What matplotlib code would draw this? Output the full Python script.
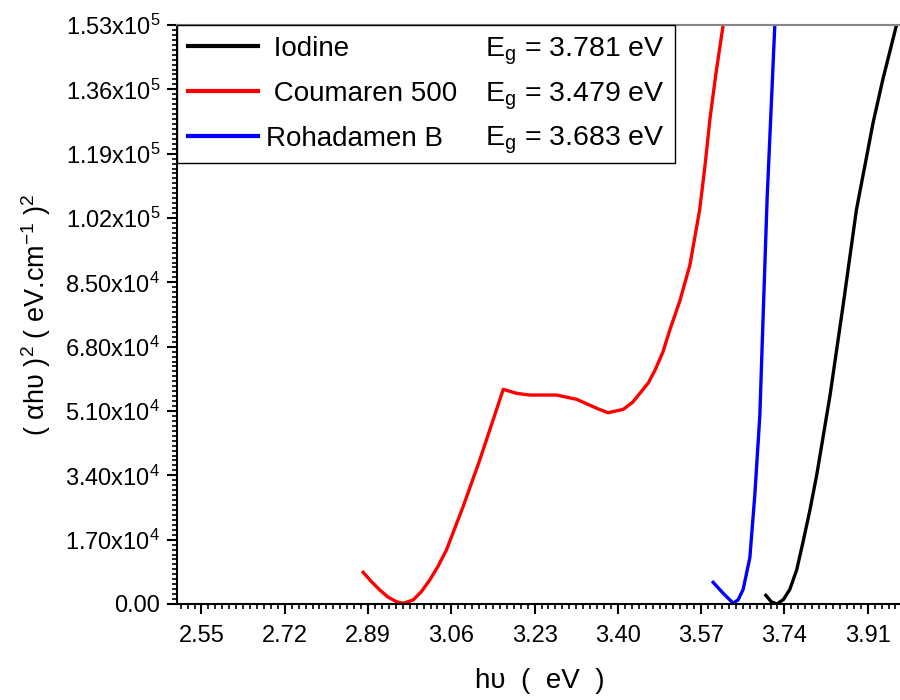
import numpy as np
import matplotlib
matplotlib.use("Agg")
import matplotlib.pyplot as plt
from matplotlib.ticker import FixedLocator, AutoMinorLocator

plt.rcParams['font.family'] = ['Liberation Sans', 'DejaVu Sans']
plt.rcParams['mathtext.fontset'] = 'custom'
plt.rcParams['mathtext.rm'] = 'Liberation Sans'
plt.rcParams['mathtext.it'] = 'Liberation Sans'
plt.rcParams['mathtext.bf'] = 'Liberation Sans'

# Tauc plot data: photon energy (eV) and (alpha h nu)^2
iodine_x = [3.702, 3.713, 3.725, 3.738, 3.751, 3.765, 3.778, 3.792, 3.806, 3.833, 3.860,
            3.887, 3.921, 3.941, 3.969]
iodine_y = [2300, 600, 0, 1200, 3860, 9000, 16410, 24800, 34160, 55060, 79130,
            104200, 127190, 138680, 153100]

coumaren_x = [2.880, 2.897, 2.914, 2.931, 2.948, 2.962, 2.982, 2.999, 3.016, 3.033, 3.050,
              3.084, 3.118, 3.152, 3.166, 3.193, 3.220, 3.275, 3.316, 3.357, 3.380,
              3.411, 3.430, 3.445, 3.462, 3.476, 3.492, 3.506, 3.527, 3.547, 3.567, 3.578,
              3.588, 3.600, 3.615]
coumaren_y = [8380, 5900, 3700, 1800, 610, 180, 1060, 3300, 6340, 10000, 14270,
              25710, 38050, 51260, 56730, 55670, 55220, 55220, 54080, 51700, 50540,
              51440, 53300, 55670, 58400, 61830, 66600, 72400, 80300, 89560, 104200, 116000,
              128220, 140000, 153100]

rohadamen_x = [3.5945, 3.6149, 3.6353, 3.6455, 3.6557, 3.6694, 3.6796, 3.6898, 3.6965,
               3.7047, 3.7137, 3.7204]
rohadamen_y = [5730, 2830, 210, 1100, 3860, 12230, 28930, 49850, 75980,
               107300, 133400, 153100]

names = [" Iodine", " Coumaren 500", "Rohadamen B"]
gaps = ["3.781", "3.479", "3.683"]
colors = ["black", "red", "blue"]

x_ticks = [2.55, 2.72, 2.89, 3.06, 3.23, 3.40, 3.57, 3.74, 3.91]
y_ticks = [0, 17000, 34000, 51000, 68000, 85000, 102000, 119000, 136000, 153000]
y_labels = ["0.00", "1.70x10$^4$", "3.40x10$^4$", "5.10x10$^4$", "6.80x10$^4$",
            "8.50x10$^4$", "1.02x10$^5$", "1.19x10$^5$", "1.36x10$^5$", "1.53x10$^5$"]

fig = plt.figure(figsize=(9, 7), dpi=100)
ax = fig.add_axes([177 / 900, 96 / 700, 725 / 900, 579 / 700])

series = [(iodine_x, iodine_y), (coumaren_x, coumaren_y), (rohadamen_x, rohadamen_y)]
for (xs, ys), name, c in zip(series, names, colors):
    ax.plot(xs, ys, color=c, lw=2.4, label=name, solid_joinstyle='round')

ax.set_xlim(2.50, 3.98)
ax.set_ylim(0, 153000)

ax.xaxis.set_major_locator(FixedLocator(x_ticks))
ax.set_xticklabels(["%.2f" % v for v in x_ticks])
ax.xaxis.set_minor_locator(AutoMinorLocator(12))
ax.yaxis.set_major_locator(FixedLocator(y_ticks))
ax.set_yticklabels(y_labels)
ax.yaxis.set_minor_locator(AutoMinorLocator(13))

ax.tick_params(which='major', direction='out', length=7, width=1.5, labelsize=17)
ax.tick_params(which='minor', direction='out', length=3.5, width=1.2)
ax.tick_params(axis='x', which='major', pad=8)
ax.tick_params(axis='y', which='major', pad=5)

for s in ['left', 'bottom']:
    ax.spines[s].set_linewidth(1.5)
ax.spines['top'].set_color('#888888')
ax.spines['top'].set_linewidth(1.5)
ax.spines['right'].set_visible(False)

ax.set_xlabel("h\u03c5  (  eV  )", fontsize=20, labelpad=15)
ax.set_ylabel("( \u03b1h\u03c5 )$^2$ ( eV.cm$^{-1}$ )$^2$", fontsize=19.5, labelpad=9)

leg = ax.legend(loc='upper left', bbox_to_anchor=(0, 1, (675 - 177) / 725, 0), mode='expand',
                borderaxespad=0, fancybox=False, edgecolor='black', framealpha=1,
                handlelength=2.5, handletextpad=0.3, labelspacing=0.68,
                borderpad=0.4, fontsize=20)
leg.get_frame().set_linewidth(1.0)
for h in leg.get_lines():
    h.set_linewidth(3)

# band gap values on the same baselines as the legend entries, right-aligned
fig.canvas.draw()
renderer = fig.canvas.get_renderer()
inv = ax.transAxes.inverted()
for t, g in zip(leg.get_texts(), gaps):
    bb = t.get_window_extent(renderer)
    _, _, d = renderer.get_text_width_height_descent("lp", t.get_fontproperties(), ismath=False)
    _, ya = inv.transform((bb.x0, bb.y0 + d))
    ax.text((665 - 177) / 725, ya, "E$_\\mathregular{g}$ = %s eV" % g, transform=ax.transAxes,
            ha='right', va='baseline', fontsize=20.5, zorder=10)

fig.savefig("out.png", dpi=100)
